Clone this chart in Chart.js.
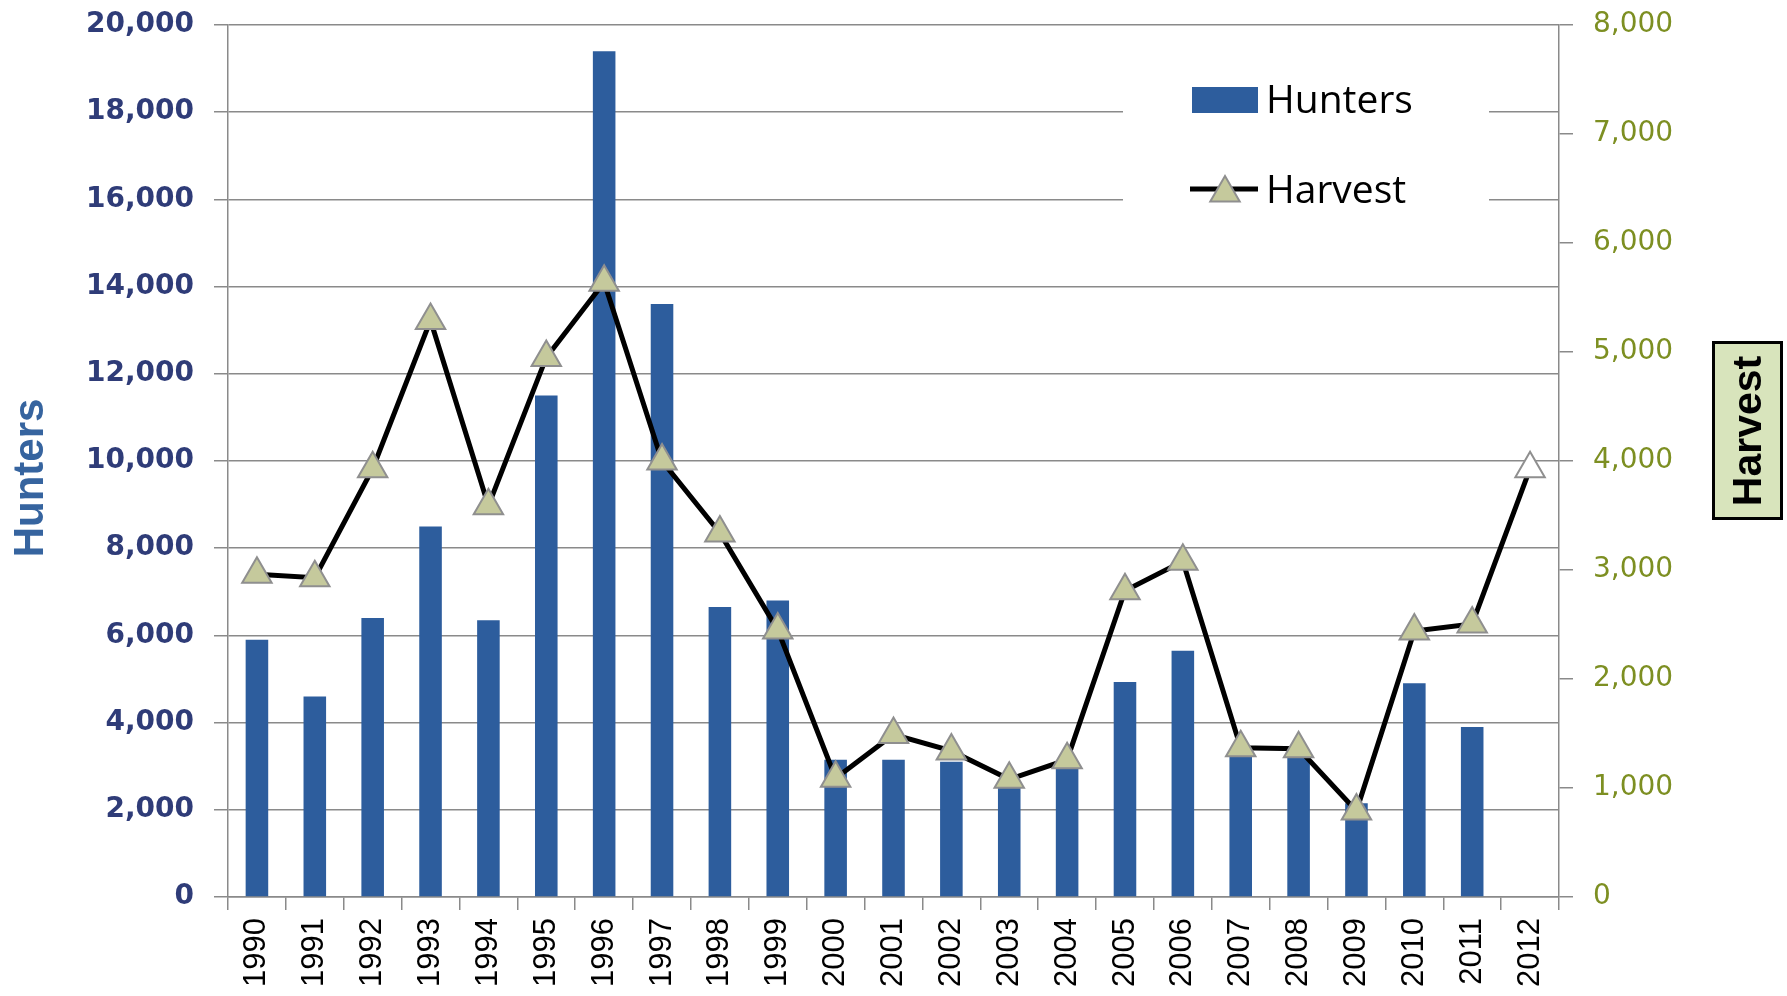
<!DOCTYPE html>
<html lang="en">
<head>
<meta charset="UTF-8">
<title>Hunters and Harvest</title>
<style>
    body {
        margin: 0;
        background-color: #ffffff;
    }
    #wrap {
        width: 1787px;
        height: 996px;
    }
</style>
</head>
<body>
<div id="wrap"><canvas id="chart" width="1787" height="996"></canvas></div>

<script src="https://cdn.jsdelivr.net/npm/chart.js"></script>
<script>
    // values
    const years = ['1990', '1991', '1992', '1993', '1994', '1995', '1996', '1997', '1998', '1999', '2000', '2001',
                   '2002', '2003', '2004', '2005', '2006', '2007', '2008', '2009', '2010', '2011', '2012'];
    const hunters = [5900, 4600, 6400, 8500, 6350, 11500, 19400, 13600, 6650, 6800, 3150, 3150,
                     3100, 2650, 3050, 4930, 5650, 3300, 3250, 2150, 4900, 3900, null];
    const harvest = [2960, 2930, 3930, 5290, 3590, 4950, 5640, 4000, 3340, 2450, 1090, 1490,
                     1340, 1080, 1260, 2810, 3080, 1370, 1360, 790, 2440, 2505, 3930];

    const barColor = '#2d5d9d';
    const gridColor = '#8a8a8a';
    const markerFill = '#c5c99c';
    const markerBorder = '#8f8f8f';

    // legend box in the upper right, drawn over the grid like the original
    const legendBox = {
        id: 'legendBox',
        beforeDatasetsDraw(chart) {
            const ctx = chart.ctx;
            const ds = chart.data.datasets;
            ctx.save();
            ctx.fillStyle = '#ffffff';
            ctx.fillRect(1123, 66, 366, 170);

            ctx.fillStyle = ds[1].backgroundColor;
            ctx.fillRect(1192, 87, 66, 26);

            ctx.strokeStyle = ds[0].borderColor;
            ctx.lineWidth = 5;
            ctx.beginPath();
            ctx.moveTo(1190, 189);
            ctx.lineTo(1258, 189);
            ctx.stroke();
            ctx.fillStyle = markerFill;
            ctx.strokeStyle = markerBorder;
            ctx.lineWidth = 2;
            Chart.helpers.drawPoint(ctx, {pointStyle: 'triangle', radius: 17, borderWidth: 2}, 1225, 193);

            ctx.fillStyle = '#000000';
            ctx.font = '39px "Open Sans"';
            ctx.textBaseline = 'alphabetic';
            ctx.fillText(ds[1].label, 1266, 113);
            ctx.fillText(ds[0].label, 1266, 203);
            ctx.restore();
        }
    };

    // axis titles: blue "Hunters" on the left, boxed "Harvest" on the right
    const axisTitles = {
        id: 'axisTitles',
        afterDraw(chart) {
            const ctx = chart.ctx;
            ctx.save();
            ctx.textAlign = 'center';
            ctx.textBaseline = 'middle';

            ctx.translate(29, 478);
            ctx.rotate(-Math.PI / 2);
            ctx.fillStyle = '#36649f';
            ctx.font = 'bold 42px "Liberation Sans"';
            ctx.fillText('Hunters', 0, 2);
            ctx.restore();

            ctx.save();
            ctx.fillStyle = '#d8e4bc';
            ctx.fillRect(1712, 341, 71, 179);
            ctx.strokeStyle = '#000000';
            ctx.lineWidth = 3;
            ctx.strokeRect(1713.5, 342.5, 68, 176);
            ctx.translate(1748, 431);
            ctx.rotate(-Math.PI / 2);
            ctx.fillStyle = '#000000';
            ctx.font = 'bold 41px "Liberation Sans"';
            ctx.textAlign = 'center';
            ctx.textBaseline = 'middle';
            ctx.fillText('Harvest', 0, 2);
            ctx.restore();
        }
    };

    const ctx = document.getElementById('chart').getContext('2d');
    new Chart(ctx, {
        data: {
            labels: years,
            datasets: [{
                type: 'line',
                label: 'Harvest',
                data: harvest,
                yAxisID: 'y1',
                order: 0,
                borderColor: '#000000',
                borderWidth: 5,
                tension: 0,
                pointStyle: 'triangle',
                pointRadius: 17,
                pointBorderWidth: 2,
                pointBorderColor: markerBorder,
                pointBackgroundColor: c => c.dataIndex === harvest.length - 1 ? '#ffffff' : markerFill
            }, {
                type: 'bar',
                label: 'Hunters',
                data: hunters,
                yAxisID: 'y',
                order: 1,
                backgroundColor: barColor,
                barPercentage: 0.39,
                categoryPercentage: 1
            }]
        },
        options: {
            responsive: false,
            animation: false,
            layout: {padding: {top: 25, left: 0, right: 0, bottom: 0}},
            plugins: {
                legend: {display: false},
                tooltip: {enabled: false}
            },
            scales: {
                x: {
                    grid: {drawOnChartArea: false, offset: true, color: gridColor, lineWidth: 1.5, tickLength: 13},
                    border: {color: gridColor, width: 1.5},
                    ticks: {
                        color: '#000000',
                        font: {family: 'Liberation Sans', size: 31},
                        minRotation: 90,
                        maxRotation: 90,
                        padding: 8,
                        autoSkip: false
                    },
                    afterFit: s => {
                        s.height = 99;
                        s.paddingLeft = 0;
                        s.paddingRight = 0;
                    }
                },
                y: {
                    position: 'left',
                    min: 0,
                    max: 20000,
                    grid: {color: gridColor, lineWidth: 1.5, tickLength: 14},
                    border: {color: gridColor, width: 1.5},
                    ticks: {
                        stepSize: 2000,
                        color: '#2f3c78',
                        font: {family: 'DejaVu Sans', size: 28, weight: 'bold'},
                        padding: 20,
                        callback: v => v.toLocaleString('en-US')
                    },
                    afterFit: s => {
                        s.width = 228;
                        s.paddingTop = 0;
                        s.paddingBottom = 0;
                    }
                },
                y1: {
                    position: 'right',
                    min: 0,
                    max: 8000,
                    grid: {drawOnChartArea: false, color: gridColor, lineWidth: 1.5, tickLength: 14},
                    border: {color: gridColor, width: 1.5},
                    ticks: {
                        stepSize: 1000,
                        color: '#7d8f22',
                        font: {family: 'DejaVu Sans', size: 28},
                        padding: 20,
                        callback: v => v.toLocaleString('en-US')
                    },
                    afterFit: s => {
                        s.width = 228;
                        s.paddingTop = 0;
                        s.paddingBottom = 0;
                    }
                }
            }
        },
        plugins: [legendBox, axisTitles]
    });
</script>
</body>
</html>
